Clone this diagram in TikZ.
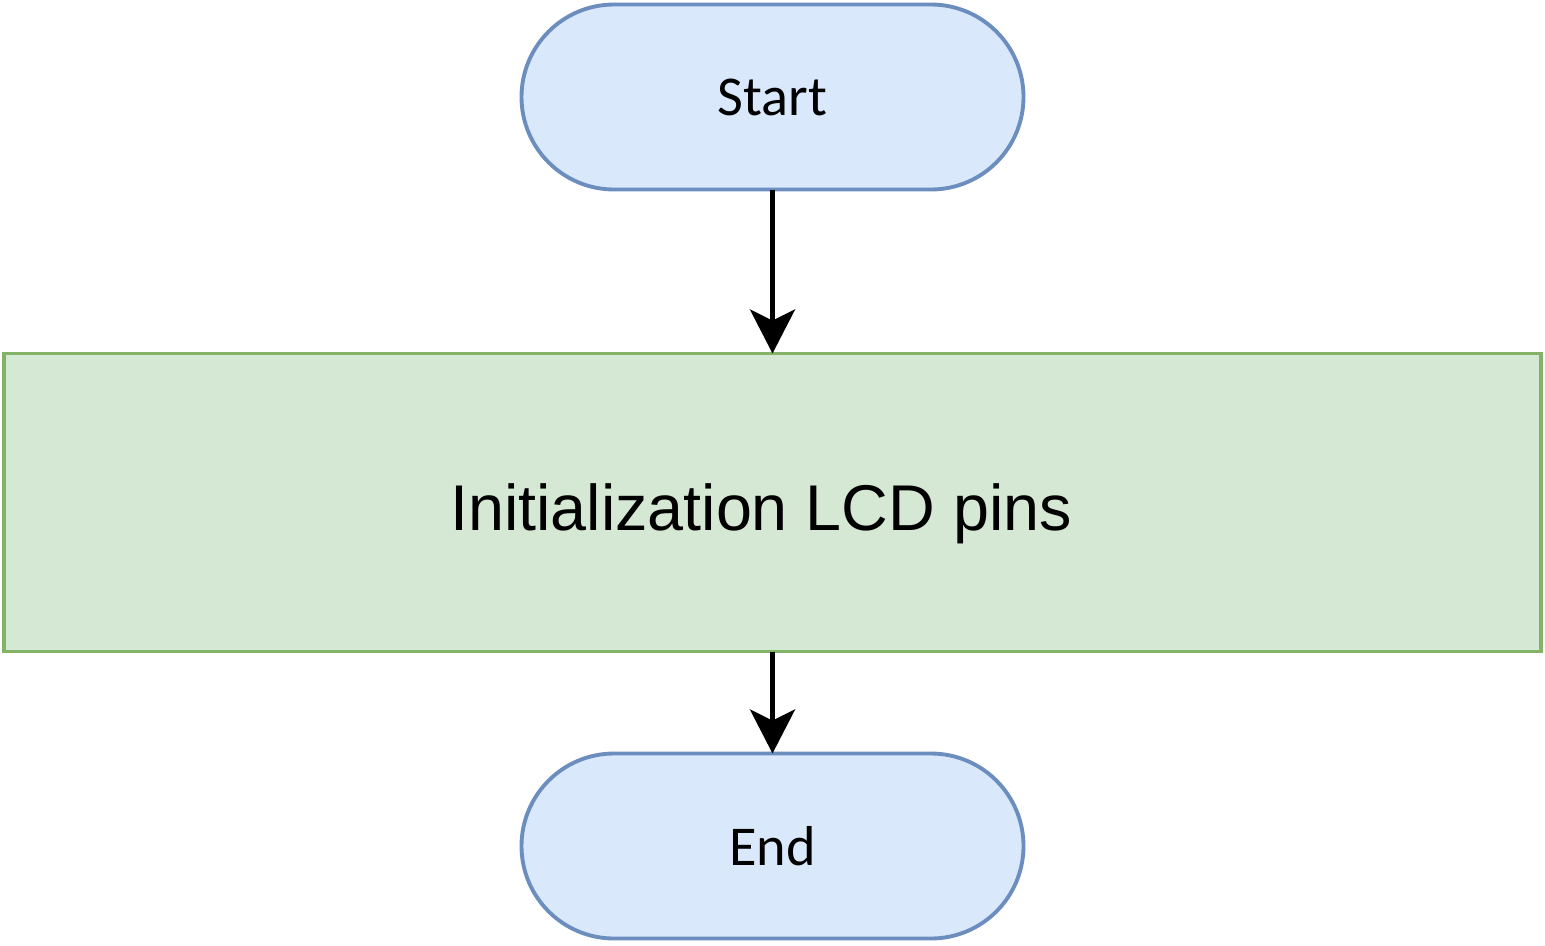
\documentclass[tikz,border=0pt]{standalone}
\usepackage{fontspec}
\usepackage{xcolor}
\usepackage{tikz}
\usetikzlibrary{positioning}
\usetikzlibrary{arrows.meta, positioning}

\newfontfamily\termfont{Carlito}
\newfontfamily\procfont{Liberation Sans}

\definecolor{termfill}{HTML}{DAE8FC}
\definecolor{termline}{HTML}{6C8EBF}
\definecolor{procfill}{HTML}{D5E8D4}
\definecolor{procline}{HTML}{82B366}

\begin{document}
\begin{tikzpicture}[
			node distance=3.28cm,
			every node/.style={outer sep=0pt},
			terminal/.style={draw=termline, fill=termfill, line width=2.2pt, rounded corners=1.85cm, minimum width=10.04cm, minimum height=3.7cm, font=\termfont\fontsize{32}{38}\selectfont},
			process/.style={draw=procline, fill=procfill, line width=2.2pt, minimum width=30.74cm, minimum height=5.96cm, text height=32pt, text depth=0pt, font=\procfont\fontsize{36.8}{44}\selectfont},
			arrow/.style={-{Stealth[length=0.88cm, width=0.9cm, inset=0.22cm]}, line width=2.4pt}
			]
			
			\useasboundingbox (0,0) rectangle (30.9,-18.9);
			
			% Bloques
			\node[terminal] (start) at (15.45,-1.94) {Start};
			
			\node[process, below=of start] (init) {Initialization LCD pins\hspace*{0.46cm}};
			
			\node[terminal, below=2.04cm of init] (end) {End};
			
			% Flechas
			\draw[arrow] (start) -- (init);
			\draw[arrow] (init) -- (end);
			
		\end{tikzpicture}
\end{document}
